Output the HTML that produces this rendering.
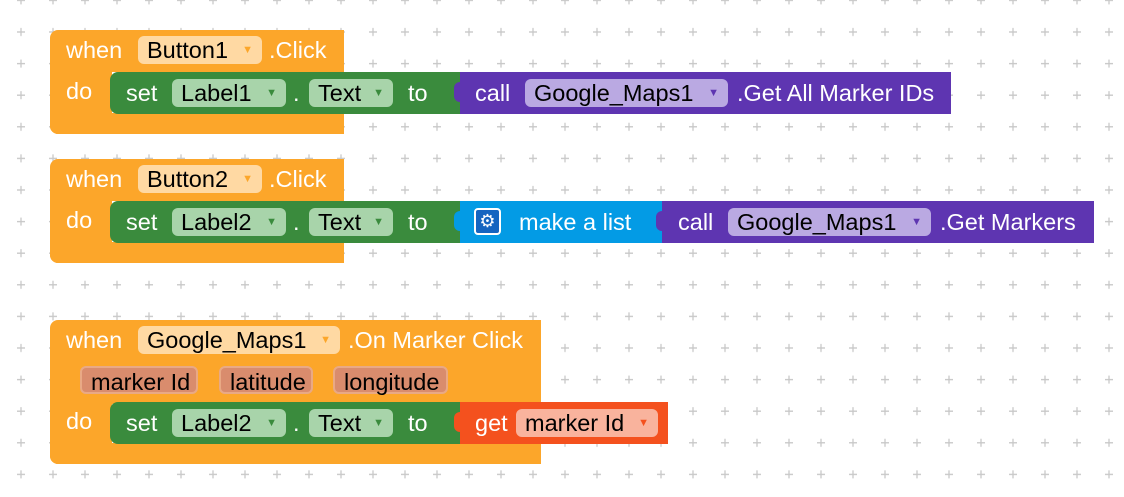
<!DOCTYPE html>
<html><head><meta charset="utf-8"><style>
body{margin:0;width:1124px;height:497px;background:#fff;position:relative;overflow:hidden;font-family:"Liberation Sans",Arial,sans-serif;}
.a{position:absolute;box-sizing:border-box;}
.t{position:absolute;color:#fff;font-size:23.5px;line-height:24px;white-space:nowrap;}
.f{position:absolute;height:28px;border-radius:6px;font-size:23.5px;line-height:28px;color:#000;padding-left:9px;box-sizing:border-box;white-space:nowrap;}
.f i{font-style:normal;font-size:11px;position:absolute;right:9px;top:0;}
.or{background:#fca62a;}
.gr{background:#3a8b3d;}
.pu{background:#5e35b1;}
.bl{background:#039be5;}
.rd{background:#f4511e;}
</style></head><body>
<svg class="a" style="left:0;top:0" width="1124" height="497">
<defs><pattern id="p" x="5" y="16" width="32" height="31.6" patternUnits="userSpaceOnUse">
<path d="M16 12v8M12 16h8" stroke="#c8c8c8" stroke-width="1.3"/></pattern></defs>
<rect width="1124" height="497" fill="url(#p)"/></svg>

<!-- Block 1 -->
<div class="a or" style="left:50px;top:30px;width:294px;height:42px;border-radius:8px 0 0 0"></div>
<div class="a or" style="left:50px;top:70px;width:62px;height:64px;border-radius:0 0 0 8px"></div>
<div class="a or" style="left:50px;top:113px;width:294px;height:21px;border-radius:0 0 0 8px"></div>
<div class="t" style="left:66px;top:38px">when</div>
<div class="f" style="left:138px;top:36px;width:124px;background:#ffd9a3">Button1<i style="color:#fca62a">▼</i></div>
<div class="t" style="left:269px;top:38px">.Click</div>
<div class="t" style="left:66px;top:79px">do</div>
<div class="a gr" style="left:110px;top:72px;width:352px;height:42px;border-radius:8px 0 0 8px"></div>
<div class="t" style="left:126px;top:81px">set</div>
<div class="f" style="left:172px;top:79px;width:114px;background:#a8d4aa">Label1<i style="color:#3a8b3d">▼</i></div>
<div class="t" style="left:293px;top:81px">.</div>
<div class="f" style="left:309px;top:79px;width:84px;background:#a8d4aa">Text<i style="color:#3a8b3d">▼</i></div>
<div class="t" style="left:408px;top:81px">to</div>
<div class="a pu" style="left:460px;top:72px;width:491px;height:42px"></div>
<div class="a pu" style="left:454px;top:82px;width:10px;height:20px;border-radius:6px 0 0 6px"></div>
<div class="t" style="left:475px;top:81px">call</div>
<div class="f" style="left:525px;top:79px;width:203px;background:#baa9e2">Google_Maps1<i style="color:#5e35b1">▼</i></div>
<div class="t" style="left:737px;top:81px">.Get All Marker IDs</div>

<!-- Block 2 -->
<div class="a or" style="left:50px;top:159px;width:294px;height:42px;border-radius:8px 0 0 0"></div>
<div class="a or" style="left:50px;top:199px;width:62px;height:64px;border-radius:0 0 0 8px"></div>
<div class="a or" style="left:50px;top:242px;width:294px;height:21px;border-radius:0 0 0 8px"></div>
<div class="t" style="left:66px;top:167px">when</div>
<div class="f" style="left:138px;top:165px;width:124px;background:#ffd9a3">Button2<i style="color:#fca62a">▼</i></div>
<div class="t" style="left:269px;top:167px">.Click</div>
<div class="t" style="left:66px;top:208px">do</div>
<div class="a gr" style="left:110px;top:201px;width:352px;height:42px;border-radius:8px 0 0 8px"></div>
<div class="t" style="left:126px;top:210px">set</div>
<div class="f" style="left:172px;top:208px;width:114px;background:#a8d4aa">Label2<i style="color:#3a8b3d">▼</i></div>
<div class="t" style="left:293px;top:210px">.</div>
<div class="f" style="left:309px;top:208px;width:84px;background:#a8d4aa">Text<i style="color:#3a8b3d">▼</i></div>
<div class="t" style="left:408px;top:210px">to</div>
<div class="a bl" style="left:460px;top:201px;width:204px;height:42px"></div>
<div class="a bl" style="left:454px;top:211px;width:10px;height:20px;border-radius:6px 0 0 6px"></div>
<div class="a" style="left:474px;top:208px;width:27px;height:27px;border:2px solid #fff;border-radius:4px;background:#1565c0;color:#fff;font-size:18px;line-height:23px;text-align:center">⚙</div>
<div class="t" style="left:519px;top:210px">make a list</div>
<div class="a pu" style="left:662px;top:201px;width:432px;height:42px"></div>
<div class="a pu" style="left:656px;top:211px;width:10px;height:20px;border-radius:6px 0 0 6px"></div>
<div class="t" style="left:678px;top:210px">call</div>
<div class="f" style="left:728px;top:208px;width:203px;background:#baa9e2">Google_Maps1<i style="color:#5e35b1">▼</i></div>
<div class="t" style="left:940px;top:210px">.Get Markers</div>

<!-- Block 3 -->
<div class="a or" style="left:50px;top:320px;width:491px;height:84px;border-radius:8px 0 0 0"></div>
<div class="a or" style="left:50px;top:400px;width:62px;height:64px;border-radius:0 0 0 8px"></div>
<div class="a or" style="left:50px;top:443px;width:491px;height:21px;border-radius:0 0 0 8px"></div>
<div class="t" style="left:66px;top:328px">when</div>
<div class="f" style="left:138px;top:326px;width:202px;background:#ffd9a3">Google_Maps1<i style="color:#fca62a">▼</i></div>
<div class="t" style="left:348px;top:328px">.On Marker Click</div>
<div class="f" style="left:80px;top:366px;width:118px;background:#d98c6d;border:2px solid #e9a985">marker Id</div>
<div class="f" style="left:219px;top:366px;width:94px;background:#d98c6d;border:2px solid #e9a985">latitude</div>
<div class="f" style="left:333px;top:366px;width:115px;background:#d98c6d;border:2px solid #e9a985">longitude</div>
<div class="t" style="left:66px;top:409px">do</div>
<div class="a gr" style="left:110px;top:402px;width:352px;height:42px;border-radius:8px 0 0 8px"></div>
<div class="t" style="left:126px;top:411px">set</div>
<div class="f" style="left:172px;top:409px;width:114px;background:#a8d4aa">Label2<i style="color:#3a8b3d">▼</i></div>
<div class="t" style="left:293px;top:411px">.</div>
<div class="f" style="left:309px;top:409px;width:84px;background:#a8d4aa">Text<i style="color:#3a8b3d">▼</i></div>
<div class="t" style="left:408px;top:411px">to</div>
<div class="a rd" style="left:460px;top:402px;width:208px;height:42px"></div>
<div class="a rd" style="left:454px;top:412px;width:10px;height:20px;border-radius:6px 0 0 6px"></div>
<div class="t" style="left:475px;top:411px">get</div>
<div class="f" style="left:516px;top:409px;width:142px;background:#f9b39d">marker Id<i style="color:#f4511e">▼</i></div>
</body></html>
